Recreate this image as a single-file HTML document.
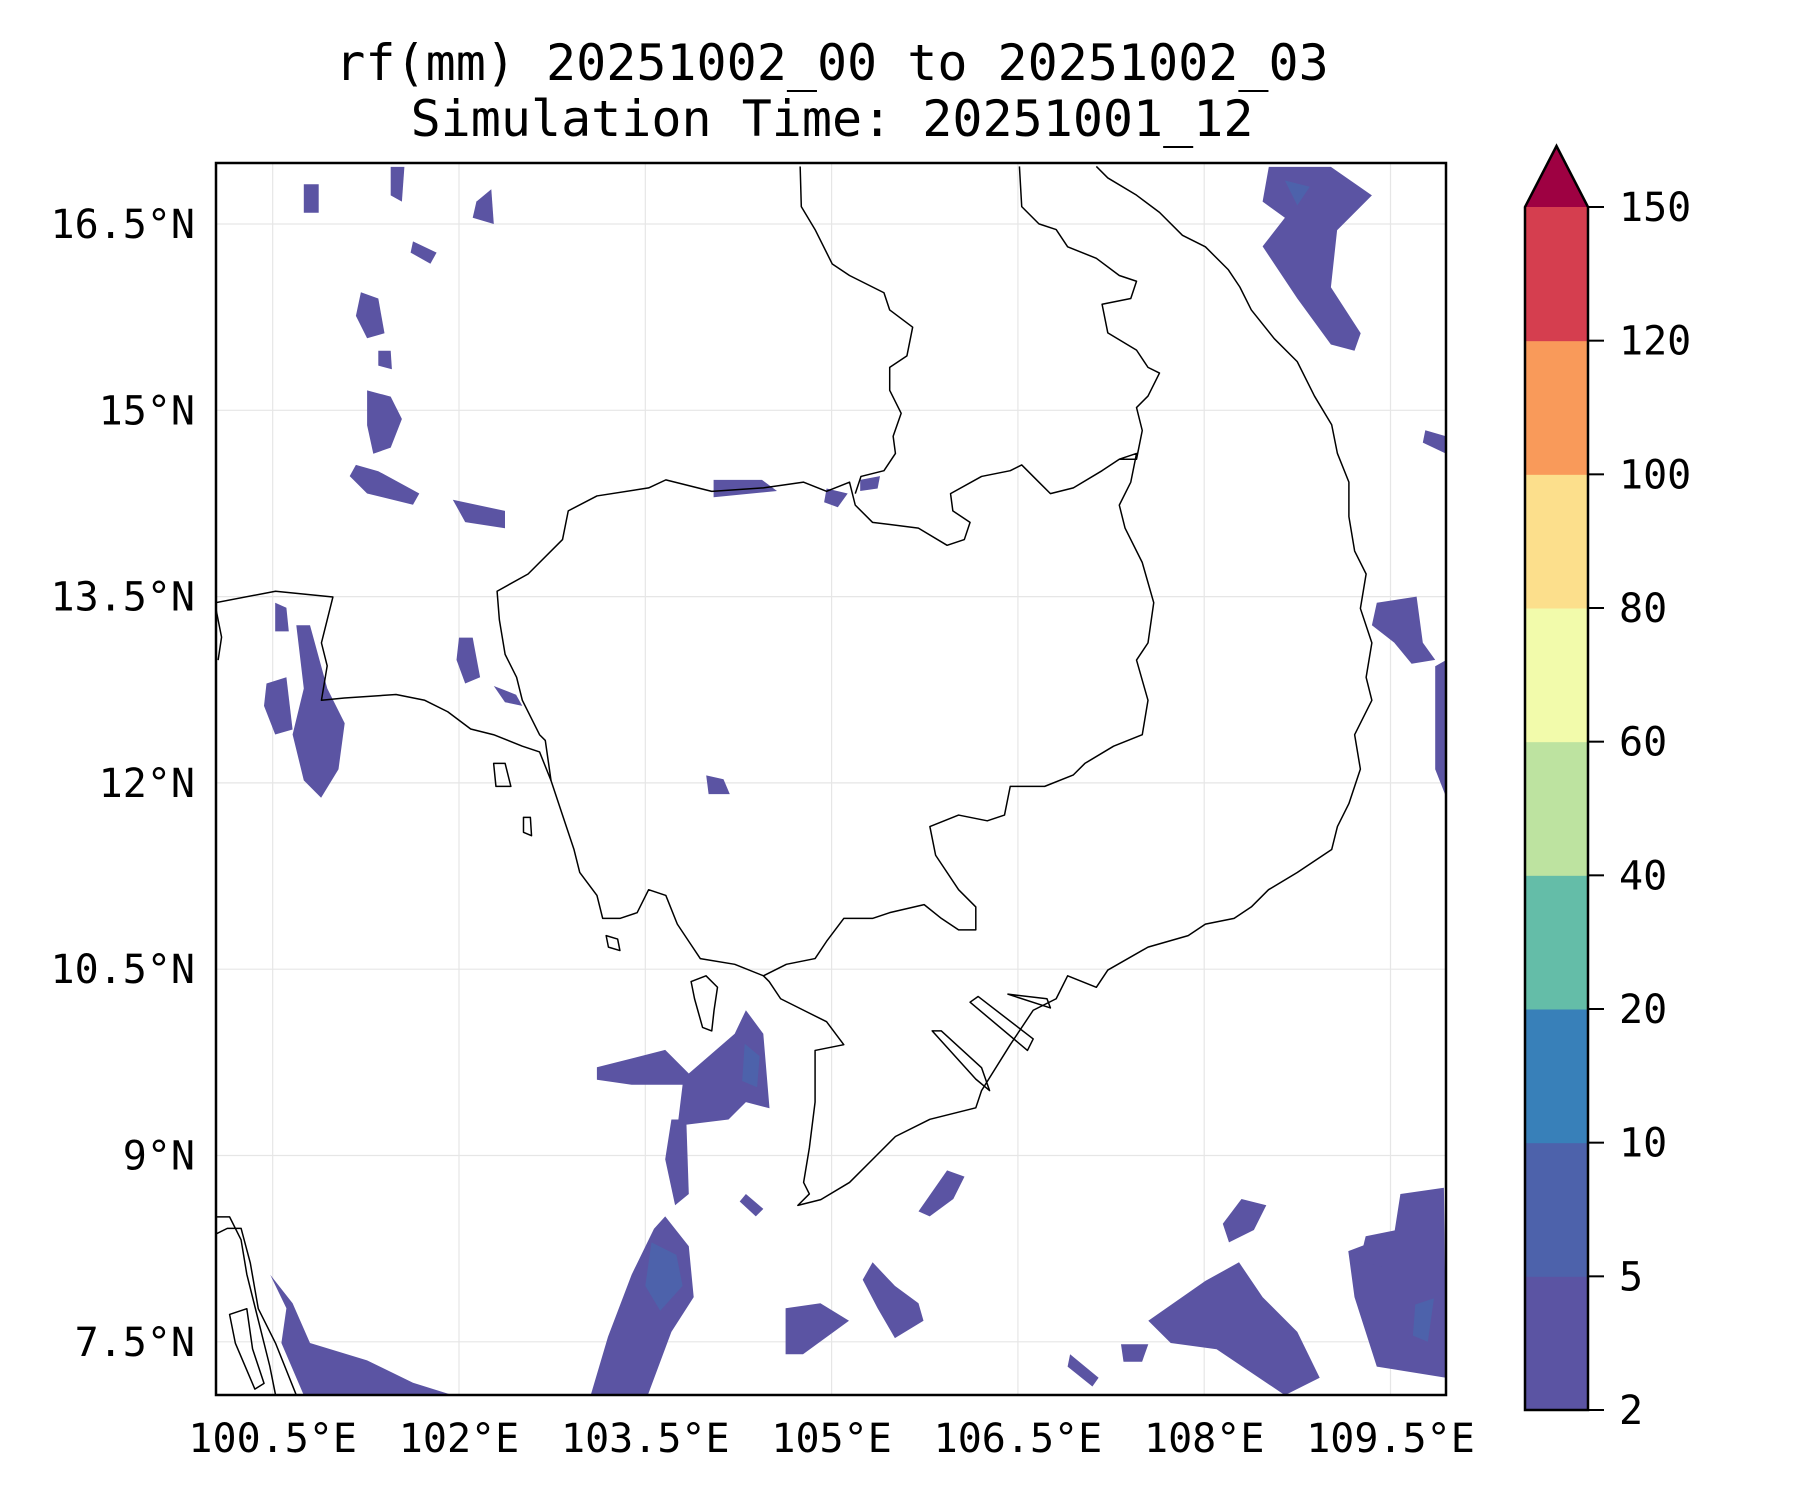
<!DOCTYPE html>
<html><head><meta charset="utf-8"><style>
html,body{margin:0;padding:0;background:#fff;}
svg{display:block;font-family:"DejaVu Sans Mono","Liberation Mono",monospace;}
</style></head><body>
<svg id="fig" width="1800" height="1500" viewBox="0 0 1800 1500" xmlns="http://www.w3.org/2000/svg">
<text x="832" y="80" font-size="50" text-anchor="middle">rf(mm) 20251002_00 to 20251002_03</text>
<text x="832" y="136" font-size="50" text-anchor="middle">Simulation Time: 20251001_12</text>
<defs><clipPath id="pc"><rect x="216" y="163" width="1230" height="1232"/></clipPath></defs>
<g id="grid"></g>
<g id="rain" clip-path="url(#pc)"></g>
<g clip-path="url(#pc)">
<g transform="scale(1.148)" fill="none" stroke="#000" stroke-width="1.3" stroke-linejoin="round">
<path d="M433,515 L460,500 L490,470 L495,445 L520,432 L565,425 L580,418 L620,428 L665,425 L700,420 L720,428 L740,420 L745,440 L760,455 L800,460 L825,475 L840,470 L845,455 L830,445 L828,430 L855,415 L880,410 L890,405 L905,420 L915,430 L935,425 L960,410 L975,400 L990,395 L985,420 L975,440 L980,460 L995,490 L1005,525 L1000,560 L990,575 L1000,610 L995,640 L970,650 L945,665 L935,675 L910,685 L880,685 L875,710 L860,715 L835,710 L810,720 L815,745 L835,775 L850,790 L850,810 L835,810 L820,800 L805,788 L775,795 L760,800 L735,800 L720,820 L710,835 L685,840 L665,850 L640,840 L610,835 L600,820 L590,805 L580,780 L565,775 L555,795 L540,800 L525,800 L520,780 L505,760 L500,740 L490,710 L480,680 L475,645 L470,640 L455,610 L450,590 L440,570 L435,540 Z"/>
<path d="M697,145 L698,180 L710,200 L725,230 L740,240 L770,255 L775,270 L795,285 L790,310 L775,320 L775,340 L785,360 L778,380 L780,395 L770,410 L750,415 L745,430"/>
<path d="M888,145 L890,180 L905,195 L920,200 L930,215 L955,225 L975,240 L990,245 L985,260 L960,265 L965,290 L990,305 L1000,320 L1010,325 L1000,345 L990,355 L995,375 L990,400 L975,400"/>
<path d="M955,145 L965,155 L990,170 L1010,185 L1030,205 L1050,215 L1070,235 L1080,250 L1090,270 L1110,295 L1130,315 L1145,345 L1160,370 L1165,395 L1175,420 L1175,450 L1180,480 L1190,500 L1185,530 L1195,560 L1190,590 L1195,610 L1180,640 L1185,670 L1175,700 L1165,720 L1160,740 L1130,760 L1105,775 L1090,790 L1075,800 L1050,805 L1035,815 L1000,825 L965,845 L955,860 L930,850 L920,870 L900,880 L880,910 L855,950 L850,965 L810,975 L780,990 L760,1010 L740,1030 L715,1045 L695,1050 L705,1040 L700,1030 L705,1000 L710,960 L710,915 L735,910 L720,890 L700,880 L680,870 L670,855 L665,850"/>
<path d="M812,898 L850,940 L862,950 L855,930 L820,898 Z M845,873 L895,915 L900,905 L852,868 Z M878,866 L915,878 L912,870 Z"/>
<path d="M188,525 L240,515 L290,520 L285,540 L280,560 L285,580 L280,610 L300,608 L345,605 L370,610 L390,620 L410,635 L430,640 L455,650 L470,655 L480,680"/>
<path d="M188,530 L193,555 L190,575"/>
<path d="M188,1060 L200,1060 L210,1080 L215,1110 L225,1150 L235,1190 L240,1215 M258,1215 L240,1170 L225,1140 L218,1100 L210,1070 L198,1070 L188,1075 M200,1145 L215,1140 L220,1175 L230,1205 L222,1210 L205,1170 Z"/>
<path d="M602,855 L615,850 L625,860 L622,880 L620,898 L612,895 L605,870 Z"/>
<path d="M430,665 L440,665 L445,685 L432,685 Z M456,712 L462,712 L463,728 L456,725 Z M528,815 L538,818 L540,828 L530,825 Z"/>
</g></g>
<rect x="216" y="163" width="1230" height="1232" fill="none" stroke="#000" stroke-width="2.5"/>
<g id="axes"></g>
<g id="cbar"></g>
</svg>
<script>
const lonTicks=[100.5,102,103.5,105,106.5,108,109.5];
const latTicks=[16.5,15,13.5,12,10.5,9,7.5];
const levels=[2,5,10,20,40,60,80,100,120,150];
const levelColors=["#5b54a3","#4d62ab","#3880b9","#64bda8","#bde3a0","#f2fbab","#fcdf8c","#f99a5a","#d53e4f"];
const overColor="#9e0142";
const blobs=[
[[108.52,16.96],[109.02,16.96],[109.35,16.73],[109.07,16.45],[109.02,15.99],[109.26,15.62],[109.21,15.48],[109.02,15.53],[108.75,15.90],[108.47,16.32],[108.65,16.55],[108.47,16.68]],
[[100.48,8.04],[100.66,7.81],[100.80,7.49],[101.26,7.35],[101.63,7.17],[101.95,7.07],[100.75,7.07],[100.57,7.49],[100.61,7.77]],
[[103.66,8.51],[103.85,8.27],[103.89,7.86],[103.71,7.58],[103.52,7.07],[103.06,7.07],[103.20,7.54],[103.39,8.04],[103.57,8.41]],
[[103.71,9.29],[103.83,9.29],[103.85,8.69],[103.74,8.60],[103.66,8.97]],
[[103.11,9.71],[103.66,9.85],[103.85,9.66],[104.22,9.98],[104.31,10.17],[104.45,9.98],[104.50,9.38],[104.31,9.43],[104.17,9.29],[103.76,9.24],[103.80,9.57],[103.39,9.57],[103.11,9.61]],
[[109.58,8.69],[109.93,8.74],[109.95,7.21],[109.39,7.30],[109.21,7.86],[109.16,8.23],[109.53,8.37]],
[[107.55,7.67],[108.01,7.99],[108.28,8.14],[108.47,7.86],[108.75,7.58],[108.93,7.21],[108.65,7.07],[108.10,7.44],[107.73,7.49]],
[[100.69,13.27],[100.80,13.27],[100.94,12.76],[101.08,12.48],[101.03,12.11],[100.89,11.88],[100.75,12.02],[100.66,12.39],[100.75,12.76]],
[[100.45,12.80],[100.61,12.85],[100.66,12.43],[100.52,12.39],[100.43,12.62]],
[[101.26,15.16],[101.45,15.11],[101.54,14.93],[101.45,14.70],[101.31,14.65],[101.26,14.88]],
[[101.17,14.56],[101.35,14.51],[101.68,14.33],[101.63,14.24],[101.26,14.33],[101.12,14.47]],
[[101.95,14.28],[102.37,14.19],[102.37,14.05],[102.05,14.10]],
[[101.21,15.95],[101.35,15.90],[101.40,15.62],[101.26,15.58],[101.17,15.76]],
[[101.35,15.48],[101.45,15.48],[101.46,15.33],[101.35,15.36]],
[[101.45,16.96],[101.56,16.96],[101.54,16.68],[101.45,16.73]],
[[100.75,16.82],[100.87,16.82],[100.87,16.59],[100.75,16.59]],
[[102.14,16.68],[102.26,16.78],[102.28,16.50],[102.11,16.55]],
[[101.63,16.36],[101.82,16.27],[101.77,16.18],[101.61,16.27]],
[[102.00,13.17],[102.11,13.17],[102.17,12.85],[102.05,12.80],[101.98,12.99]],
[[102.28,12.78],[102.46,12.71],[102.51,12.62],[102.37,12.65]],
[[104.05,14.44],[104.44,14.44],[104.56,14.35],[104.05,14.30]],
[[104.96,14.37],[105.13,14.33],[105.05,14.22],[104.94,14.26]],
[[105.23,14.44],[105.39,14.47],[105.37,14.37],[105.23,14.35]],
[[103.99,12.06],[104.13,12.03],[104.18,11.91],[104.01,11.91]],
[[109.39,13.45],[109.71,13.50],[109.76,13.13],[109.86,12.99],[109.67,12.96],[109.53,13.13],[109.35,13.27]],
[[109.86,12.94],[109.95,12.99],[109.95,11.88],[109.86,12.11],[109.86,12.57]],
[[109.78,14.84],[109.95,14.79],[109.95,14.65],[109.76,14.74]],
[[104.63,7.77],[104.91,7.81],[105.14,7.67],[104.77,7.40],[104.63,7.40]],
[[105.33,8.14],[105.51,7.95],[105.70,7.81],[105.74,7.67],[105.51,7.53],[105.37,7.77],[105.25,8.00]],
[[105.70,8.55],[105.93,8.88],[106.07,8.83],[105.98,8.65],[105.79,8.51]],
[[100.52,13.45],[100.61,13.41],[100.63,13.22],[100.52,13.22]],
[[104.31,8.69],[104.45,8.57],[104.39,8.51],[104.26,8.63]],
[[106.92,7.40],[107.15,7.21],[107.10,7.14],[106.90,7.30]],
[[107.33,7.48],[107.55,7.48],[107.50,7.34],[107.35,7.34]],
[[108.30,8.65],[108.50,8.60],[108.40,8.40],[108.20,8.30],[108.15,8.45]],
[[109.30,8.35],[109.55,8.40],[109.45,8.10],[109.25,8.15]]
];
const innerBlobs=[
[[103.55,8.30],[103.75,8.20],[103.80,7.95],[103.62,7.75],[103.50,7.95]],
[[104.30,9.90],[104.42,9.80],[104.40,9.55],[104.28,9.60]],
[[109.70,7.80],[109.85,7.85],[109.80,7.50],[109.68,7.55]],
[[108.65,16.85],[108.85,16.80],[108.75,16.65]]
];
const NS="http://www.w3.org/2000/svg";
function xOf(lon){return 459+(lon-102)*124.2;}
function yOf(lat){return 224+(16.5-lat)*124.2;}
const grid=document.getElementById('grid'),axes=document.getElementById('axes');
lonTicks.forEach(v=>{
 const l=document.createElementNS(NS,'line');
 l.setAttribute('x1',xOf(v));l.setAttribute('x2',xOf(v));l.setAttribute('y1',163);l.setAttribute('y2',1395);
 l.setAttribute('stroke','#e6e6e6');l.setAttribute('stroke-width','1.2');
 
 
 grid.appendChild(l);
 const t=document.createElementNS(NS,'text');
 t.setAttribute('x',xOf(v));t.setAttribute('y',1452);t.setAttribute('font-size','40');t.setAttribute('text-anchor','middle');
 t.textContent=v+'°E';
 
 
 axes.appendChild(t);
});
latTicks.forEach(v=>{
 const l=document.createElementNS(NS,'line');
 l.setAttribute('y1',yOf(v));l.setAttribute('y2',yOf(v));l.setAttribute('x1',216);l.setAttribute('x2',1446);
 l.setAttribute('stroke','#e6e6e6');l.setAttribute('stroke-width','1.2');
 
 
 grid.appendChild(l);
 const t=document.createElementNS(NS,'text');
 t.setAttribute('x',195);t.setAttribute('y',yOf(v)+14);t.setAttribute('font-size','40');t.setAttribute('text-anchor','end');
 t.textContent=v+'°N';
 
 
 axes.appendChild(t);
});
const rain=document.getElementById('rain');
function poly(pts,fill){
 const p=document.createElementNS(NS,'polygon');
 p.setAttribute('points',pts.map(q=>xOf(q[0]).toFixed(1)+','+yOf(q[1]).toFixed(1)).join(' '));
 p.setAttribute('fill',fill);
 
 
 rain.appendChild(p);
}
blobs.forEach(b=>poly(b,levelColors[0]));
innerBlobs.forEach(b=>poly(b,levelColors[1]));
const cb=document.getElementById('cbar');
const cbL=1525,cbR=1588,cbT=207,cbB=1410,tip=146,segH=(cbB-cbT)/(levels.length-1);
levelColors.forEach((c,i)=>{
 const r=document.createElementNS(NS,'rect');
 r.setAttribute('x',cbL);r.setAttribute('width',cbR-cbL);r.setAttribute('y',cbB-(i+1)*segH);r.setAttribute('height',segH+0.5);r.setAttribute('fill',c);
 
 
 cb.appendChild(r);
});
const tri=document.createElementNS(NS,'polygon');
tri.setAttribute('points',`${cbL},${cbT} ${(cbL+cbR)/2},${tip} ${cbR},${cbT}`);
tri.setAttribute('fill',overColor);


cb.appendChild(tri);
const out=document.createElementNS(NS,'path');
out.setAttribute('d',`M${cbL},${cbB} L${cbL},${cbT} L${(cbL+cbR)/2},${tip} L${cbR},${cbT} L${cbR},${cbB} Z`);
out.setAttribute('fill','none');out.setAttribute('stroke','#000');out.setAttribute('stroke-width','2.5');


cb.appendChild(out);
levels.forEach((v,i)=>{
 const y=cbB-i*segH;
 const l=document.createElementNS(NS,'line');
 l.setAttribute('x1',cbR);l.setAttribute('x2',cbR+16);l.setAttribute('y1',y);l.setAttribute('y2',y);l.setAttribute('stroke','#000');l.setAttribute('stroke-width','2');
 
 
 cb.appendChild(l);
 const t=document.createElementNS(NS,'text');
 t.setAttribute('x',1619);t.setAttribute('y',y+14);t.setAttribute('font-size','40');
 t.textContent=v;
 
 
 cb.appendChild(t);
});
</script>
</body></html>
